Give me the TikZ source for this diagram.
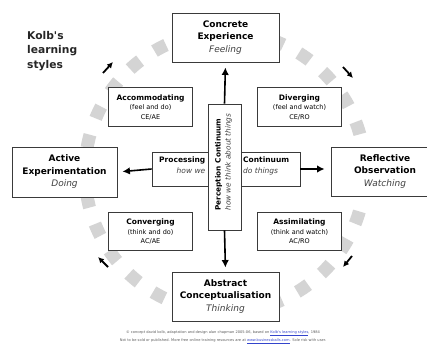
\documentclass[tikz,border=0pt]{standalone}
\usepackage{fontspec}
\setmainfont{DejaVu Sans}
\usetikzlibrary{arrows.meta}
\definecolor{ringgrey}{HTML}{D4D4D4}
\definecolor{boxline}{HTML}{3A3A3A}
\definecolor{linkblue}{HTML}{3344CC}
\begin{document}
\begin{tikzpicture}[x=1pt,y=-1pt,
  bigbox/.style={draw=boxline, line width=0.9pt, fill=white, align=center, inner sep=0pt,
     minimum width=107pt, minimum height=49pt, font=\fontsize{9}{12.5}\selectfont\bfseries},
  smallbox/.style={draw=boxline, line width=0.8pt, fill=white, align=center, inner sep=0pt,
     minimum width=84pt, minimum height=38.5pt, font=\fontsize{6.5}{9.5}\selectfont},
  midbox/.style={draw=boxline, line width=0.8pt, fill=white, inner sep=0pt, minimum height=34pt},
  arr/.style={line width=1.6pt, -{Latex[length=7.5pt,width=7.5pt]}},
  cyc/.style={line width=1.8pt, -{Latex[length=6pt,width=6pt]}}
]
\useasboundingbox (0,0) rectangle (427,353);

% dashed ring of grey squares
\draw[ringgrey, line width=13pt, dash pattern=on 13pt off 17.33pt, dash phase=20.7pt]
  (225,172) circle[radius=140];

% title
\node[anchor=north west, align=left, inner sep=0pt, font=\fontsize{10.7}{14.5}\selectfont\bfseries, text=black!85]
  (title) at (27,31) {Kolb\textquotesingle s\\learning\\styles};

% main boxes
\node[bigbox] (ce) at (225.5,37.5) {Concrete\\Experience\\{\mdseries\itshape\color{black!75}Feeling}};
\node[bigbox] (ac) at (225.5,296.5) {Abstract\\Conceptualisation\\{\mdseries\itshape\color{black!75}Thinking}};
\node[bigbox, minimum width=105pt, minimum height=50pt] (ae) at (64.5,172) {Active\\Experimentation\\{\mdseries\itshape\color{black!75}Doing}};
\begin{scope}
  \clip (0,0) rectangle (427,353);
  \node[bigbox, minimum width=108pt] (ro) at (385,171.5) {Reflective\\Observation\\{\mdseries\itshape\color{black!75}Watching}};
\end{scope}

% style boxes
\node[smallbox] (acc) at (150.5,107) {{\fontsize{7.5}{9.5}\selectfont\bfseries Accommodating}\\(feel and do)\\CE/AE};
\node[smallbox] (div) at (299.5,107) {{\fontsize{7.5}{9.5}\selectfont\bfseries Diverging}\\(feel and watch)\\CE/RO};
\node[smallbox] (conv) at (150.5,231.5) {{\fontsize{7.5}{9.5}\selectfont\bfseries Converging}\\(think and do)\\AC/AE};
\node[smallbox] (assim) at (299.5,231.5) {{\fontsize{7.5}{9.5}\selectfont\bfseries Assimilating}\\(think and watch)\\AC/RO};

% processing continuum
\node[midbox, minimum width=58pt] (proc) at (181,169) {};
\node[anchor=north east, align=right, inner sep=0pt, font=\fontsize{7.5}{10.5}\selectfont] (proct) at (205.5,157)
  {\textbf{Processing}\\{\itshape\color{black!75}how we}};
\node[midbox, minimum width=60pt] (cont) at (270,169) {};
\node[anchor=north west, align=left, inner sep=0pt, font=\fontsize{7.5}{10.5}\selectfont] (contt) at (243,157)
  {\textbf{Continuum}\\{\itshape\color{black!75}do things}};

% perception continuum
\node[draw=boxline, line width=0.8pt, fill=white, inner sep=0pt, minimum width=33pt, minimum height=126pt] (perc) at (224.5,167) {};
\node[rotate=90, align=left, inner sep=0pt, font=\fontsize{7.3}{10}\selectfont] (perct) at (223.5,162)
  {\textbf{Perception Continuum}\\{\itshape\color{black!75}how we think about things}};

% arrows
\draw[arr, shorten >=5pt] (perc.north) -- (ce.south);
\draw[arr, shorten >=4pt] (perc.south) -- (ac.north);
\draw[arr, shorten >=5pt] (proc.west) -- (ae.east);
\draw[arr, shorten >=6pt] (cont.east) -- (ro.west |- cont.east);

% cycle arrows
\coordinate (ne1) at (103,73); \coordinate (ne2) at (113,62);
\coordinate (se1) at (343,67); \coordinate (se2) at (353,78);
\coordinate (sw1) at (352,256); \coordinate (sw2) at (343,267);
\coordinate (nw1) at (108,267); \coordinate (nw2) at (98,257);
\draw[cyc] (ne1) -- (ne2);
\draw[cyc] (se1) -- (se2);
\draw[cyc] (sw1) -- (sw2);
\draw[cyc] (nw1) -- (nw2);

% footer
\node[align=center, inner sep=0pt, font=\fontsize{3.6}{8}\selectfont, text=black!65] (foot) at (223,337)
  {© concept david kolb, adaptation and design alan chapman 2005-06, based on \textcolor{linkblue}{\underline{Kolb\textquotesingle s learning styles}}, 1984\\
   Not to be sold or published. More free online training resources are at \textcolor{linkblue}{\underline{www.businessballs.com}}. Sole risk with user.};
\end{tikzpicture}
\end{document}
